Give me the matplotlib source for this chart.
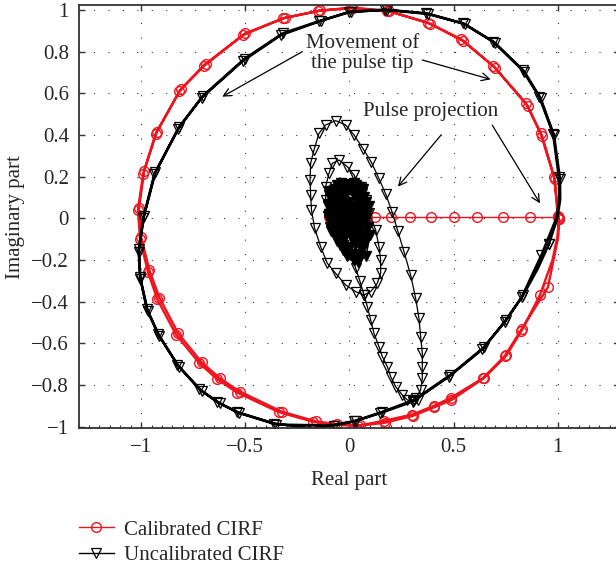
import numpy as np
import matplotlib.pyplot as plt
from matplotlib.lines import Line2D
from matplotlib.ticker import MultipleLocator

# ==== 資料: complex plane samples (real, imag, marked) ====
# marked = 0 -> extra vertex on the curve, drawn without a marker
# calibrated CIRF, tip of the pulse going round (two laps)
cal_tip = np.array([
    (1.006, 0.000, 1), (0.982, 0.200, 1), (0.918, 0.408, 1), (0.848, 0.552, 1), (0.691, 0.731, 1),
    (0.538, 0.859, 1), (0.377, 0.939, 1), (0.180, 0.997, 1), (0.006, 1.012, 1), (-0.150, 0.995, 1),
    (-0.320, 0.960, 1), (-0.510, 0.880, 1), (-0.700, 0.730, 1), (-0.816, 0.610, 1), (-0.930, 0.405, 1),
    (-0.990, 0.215, 1), (-1.015, 0.040, 1), (-1.005, -0.100, 1), (-0.967, -0.258, 1), (-0.922, -0.389, 1),
    (-0.832, -0.559, 1), (-0.720, -0.696, 1), (-0.634, -0.773, 1), (-0.538, -0.837, 1), (-0.339, -0.930, 1),
    (-0.173, -0.977, 1), (-0.074, -0.990, 1), (0.039, -0.997, 1), (0.171, -0.981, 1), (0.303, -0.949, 1),
    (0.407, -0.907, 1), (0.490, -0.872, 1), (0.646, -0.767, 1), (0.754, -0.658, 1), (0.830, -0.533, 1),
    (0.915, -0.368, 1), (0.975, -0.200, 0), (0.998, -0.090, 0), (1.006, -0.005, 1),
    (1.000, 0.010, 1), (0.985, 0.190, 1), (0.925, 0.395, 1), (0.855, 0.540, 1), (0.700, 0.722, 1),
    (0.545, 0.852, 1), (0.385, 0.935, 1), (0.190, 0.994, 1), (0.015, 1.008, 1), (-0.140, 0.998, 1),
    (-0.310, 0.962, 1), (-0.500, 0.888, 1), (-0.690, 0.742, 1), (-0.808, 0.622, 1), (-0.925, 0.415, 1),
    (-0.985, 0.228, 1), (-1.010, 0.050, 1), (-1.000, -0.090, 1), (-0.960, -0.250, 1), (-0.912, -0.381, 1),
    (-0.822, -0.552, 1), (-0.710, -0.690, 1), (-0.622, -0.768, 1), (-0.525, -0.832, 1), (-0.325, -0.928, 1),
    (-0.160, -0.975, 1), (-0.060, -0.988, 1), (0.050, -0.994, 1), (0.166, -0.972, 1), (0.302, -0.942, 1),
    (0.406, -0.900, 1), (0.486, -0.862, 1), (0.640, -0.768, 1), (0.745, -0.662, 1), (0.822, -0.540, 1),
    (0.953, -0.331, 1), (0.982, -0.190, 0), (1.003, -0.085, 0), (1.006, -0.005, 1),
])

# calibrated CIRF, samples of the pulse (all on the real axis)
cal_proj_x = [-0.098, -0.060, -0.030, 0.000, 0.025, 0.055, 0.086, 0.121, 0.198,
              0.290, 0.392, 0.502, 0.614, 0.739, 0.867, 1.003]
cal_proj_y = [0.004] * len(cal_proj_x)

# uncalibrated CIRF, tip of the pulse (two laps)
uncal_tip = np.array([
    (0.958, -0.123, 1), (0.998, 0.000, 0), (1.012, 0.090, 0), (1.011, 0.190, 1), (0.982, 0.400, 1),
    (0.918, 0.576, 1), (0.840, 0.704, 1), (0.698, 0.843, 1), (0.553, 0.933, 1), (0.377, 0.981, 1),
    (0.180, 1.000, 1), (0.006, 0.992, 1), (-0.138, 0.949, 1), (-0.320, 0.888, 1), (-0.503, 0.766, 1),
    (-0.704, 0.587, 1), (-0.816, 0.440, 1), (-0.931, 0.222, 1), (-0.986, 0.011, 1), (-1.010, -0.149, 1),
    (-1.005, -0.280, 1), (-0.973, -0.434, 1), (-0.919, -0.555, 1), (-0.826, -0.703, 1), (-0.720, -0.821, 1),
    (-0.634, -0.882, 1), (-0.540, -0.930, 1), (-0.360, -0.985, 1), (-0.174, -1.010, 1), (0.030, -0.972, 1),
    (0.146, -0.936, 1), (0.303, -0.880, 1), (0.478, -0.760, 1), (0.638, -0.629, 1), (0.747, -0.496, 1),
    (0.827, -0.379, 1), (0.922, -0.176, 1), (0.993, 0.000, 0), (1.008, 0.090, 0),
    (1.005, 0.200, 1), (0.978, 0.405, 1), (0.912, 0.582, 1), (0.832, 0.710, 1), (0.690, 0.848, 1),
    (0.545, 0.936, 1), (0.370, 0.984, 1), (0.172, 1.002, 1), (-0.002, 0.990, 1), (-0.145, 0.945, 1),
    (-0.328, 0.880, 1), (-0.510, 0.757, 1), (-0.710, 0.578, 1), (-0.822, 0.430, 1), (-0.936, 0.212, 1),
    (-0.990, 0.000, 1), (-1.012, -0.160, 1), (-1.003, -0.292, 1), (-0.968, -0.445, 1), (-0.912, -0.566, 1),
    (-0.818, -0.712, 1), (-0.710, -0.828, 1), (-0.622, -0.888, 1), (-0.528, -0.935, 1), (-0.350, -0.990, 1),
    (-0.074, -0.995, 1), (0.022, -0.975, 1), (0.155, -0.930, 1), (0.310, -0.872, 1), (0.485, -0.752, 1),
    (0.645, -0.620, 1), (0.752, -0.488, 1), (0.835, -0.368, 1), (0.905, -0.240, 0), (0.958, -0.123, 1),
])

# uncalibrated CIRF, samples of the pulse: dense core near the origin ...
uncal_core = np.array([
    (-0.010, 0.000), (0.010, 0.030), (-0.015, 0.050), (-0.035, 0.010), (-0.020, -0.040),
    (0.015, -0.030), (0.030, 0.030), (0.000, 0.080), (-0.045, 0.070), (-0.060, 0.000),
    (-0.035, -0.070), (0.010, -0.090), (0.045, -0.040), (0.050, 0.040), (0.020, 0.110),
    (-0.035, 0.120), (-0.075, 0.070), (-0.080, -0.010), (-0.050, -0.090), (0.000, -0.140),
    (0.050, -0.110), (0.070, -0.020), (0.060, 0.080), (0.020, 0.140), (-0.045, 0.150),
    (-0.090, 0.100), (-0.100, 0.020), (-0.070, -0.080), (-0.020, -0.160), (0.040, -0.170),
    (0.080, -0.090), (0.085, 0.020), (0.060, 0.120), (0.000, 0.160), (-0.070, 0.140),
    (-0.105, 0.060), (-0.095, -0.040), (-0.045, -0.130), (0.020, -0.190),
    (-0.005, 0.020), (-0.025, 0.030), (-0.030, -0.015), (0.000, -0.020), (0.020, 0.010),
    (0.015, 0.060), (-0.030, 0.090), (-0.055, 0.040), (-0.050, -0.040), (-0.010, -0.060),
    (0.030, -0.070), (0.040, 0.000), (0.040, 0.090), (-0.010, 0.130), (-0.060, 0.110),
    (-0.085, 0.040), (-0.075, -0.050), (-0.030, -0.110), (0.025, -0.130), (0.065, -0.070),
    (0.075, 0.050), (0.040, 0.130), (-0.020, 0.165), (-0.080, 0.130), (-0.105, 0.070),
    (-0.100, -0.010), (-0.060, -0.110), (0.005, -0.175), (0.060, -0.150), (0.090, -0.040),
    (0.080, 0.080), (0.030, 0.160), (-0.060, 0.160), (-0.100, 0.110), (-0.090, 0.000),
    (-0.040, -0.100), (0.000, 0.000), (0.020, -0.010), (0.010, -0.050), (-0.020, -0.070),
    (-0.045, -0.020), (-0.040, 0.040), (-0.010, 0.060), (0.030, 0.060), (0.055, 0.000),
    (0.050, -0.070), (0.020, -0.110), (-0.030, -0.130), (-0.070, -0.040), (-0.070, 0.030),
    (-0.060, 0.090), (-0.020, 0.150), (0.045, 0.150), (0.070, 0.100), (0.080, -0.005),
    (0.075, -0.120), (0.045, -0.190), (-0.010, -0.180), (-0.030, -0.150), (-0.090, -0.060),
    (-0.105, 0.010), (-0.100, 0.130), (-0.040, 0.170), (0.020, 0.170), (0.065, 0.140),
    (0.095, 0.060), (0.100, -0.080), (0.080, -0.180), (0.040, -0.210), (0.020, -0.200),
])
# ... then the tail, the outer loop and the inner loop
uncal_loops = np.array([
    (0.030, -0.240), (0.050, -0.300), (0.070, -0.368),
    (0.086, -0.424), (0.102, -0.488), (0.118, -0.552), (0.142, -0.616), (0.158, -0.664),
    (0.182, -0.712), (0.198, -0.760), (0.222, -0.808), (0.254, -0.848), (0.278, -0.872),
    (0.305, -0.878), (0.330, -0.872),
    (0.318, -0.864), (0.342, -0.824), (0.350, -0.768), (0.350, -0.712), (0.350, -0.648),
    (0.342, -0.568), (0.334, -0.480), (0.318, -0.384), (0.294, -0.272), (0.262, -0.160),
    (0.232, -0.060), (0.205, 0.030), (0.175, 0.115), (0.140, 0.195), (0.105, 0.270),
    (0.065, 0.335), (0.022, 0.400), (-0.018, 0.448), (-0.066, 0.469), (-0.114, 0.448),
    (-0.146, 0.408), (-0.170, 0.328), (-0.186, 0.264), (-0.189, 0.184), (-0.186, 0.110),
    (-0.182, 0.040), (-0.167, -0.048), (-0.138, -0.136), (-0.106, -0.216), (-0.066, -0.264),
    (-0.018, -0.320), (0.030, -0.352), (0.070, -0.368),
    (0.102, -0.352), (0.134, -0.312), (0.150, -0.264), (0.150, -0.200), (0.142, -0.136),
    (0.126, -0.056), (0.094, 0.024), (0.078, 0.088), (0.054, 0.152), (0.022, 0.208),
    (-0.010, 0.248), (-0.050, 0.280), (-0.082, 0.264), (-0.098, 0.216), (-0.114, 0.152),
    (-0.114, 0.088), (-0.100, 0.020),
])

x_ticks = [-1, -0.5, 0, 0.5, 1]
x_ticklabels = ['\u22121', '\u22120.5', '0', '0.5', '1']
y_ticks = [-1, -0.8, -0.6, -0.4, -0.2, 0, 0.2, 0.4, 0.6, 0.8, 1]
y_ticklabels = ['\u22121', '\u22120.8', '\u22120.6', '\u22120.4', '\u22120.2', '0',
                '0.2', '0.4', '0.6', '0.8', '1']

plt.rcParams['font.family'] = ['Liberation Serif', 'DejaVu Serif']
FS = 15
TXT = '#262626'
RED = '#f0141e'

fig = plt.figure(figsize=(6.16, 5.69), dpi=100)
ax = fig.add_axes([78.6 / 616, 1 - 428.3 / 569, 541.6 / 616, 423.3 / 569])

red_style = dict(color=RED, marker='o', ms=7, mfc='none', mew=1.0)
blk_style = dict(color='k', marker='v', ms=7.5, mfc='none', mew=0.9)


def marked(arr):
    return [int(i) for i in np.flatnonzero(arr[:, 2])]


ax.plot(cal_tip[:, 0], cal_tip[:, 1], lw=1.7, markevery=marked(cal_tip), **red_style)
ax.plot(cal_proj_x, cal_proj_y, lw=1.0, **red_style)
ax.plot(uncal_tip[:, 0], uncal_tip[:, 1], lw=1.8, markevery=marked(uncal_tip), **blk_style)
# core samples overlap so much that they merge into a solid patch
ax.plot(uncal_core[:, 0], uncal_core[:, 1], lw=1.0, color='k', marker='v', ms=7.5,
        mfc='k', mew=1.0)
ax.plot(np.r_[uncal_core[-1:, 0], uncal_loops[:, 0]],
        np.r_[uncal_core[-1:, 1], uncal_loops[:, 1]], lw=0.9, **blk_style)

ax.set_xlim(-1.3, 1.3)
ax.set_ylim(-1.008, 1.024)
ax.set_xticks(x_ticks)
ax.set_xticklabels(x_ticklabels)
ax.set_yticks(y_ticks)
ax.set_yticklabels(y_ticklabels)
ax.xaxis.set_minor_locator(MultipleLocator(0.05))
ax.tick_params(which='major', direction='in', length=4, width=1.0, color='#333333',
               top=True, right=True, labelsize=FS, labelcolor=TXT, pad=7)
ax.tick_params(axis='x', which='minor', direction='in', length=2, width=0.8,
               color='#333333', top=False, bottom=True)
ax.tick_params(axis='y', which='minor', left=False, right=False)
ax.grid(True, which='major', color='#333333', lw=0.8, linestyle=(0, (1, 12)))
ax.set_axisbelow(True)
for sp in ax.spines.values():
    sp.set_color('#333333')
    sp.set_linewidth(1.3)

ax.set_xlabel('Real part', fontsize=FS, color=TXT, labelpad=10)
ax.set_ylabel('Imaginary part', fontsize=FS, color=TXT, labelpad=4)

# ==== annotations ====
ax.text(0.062, 0.792, 'Movement of\nthe pulse tip', fontsize=FS, color=TXT,
        ha='center', va='center', linespacing=1.05)
ax.text(0.392, 0.515, 'Pulse projection', fontsize=FS, color=TXT,
        ha='center', va='center')
arrow = dict(arrowstyle='->', lw=0.9, color='k', shrinkA=0, shrinkB=0,
             mutation_scale=14)
ax.annotate('', xy=(-0.61, 0.584), xytext=(-0.226, 0.80), arrowprops=arrow)
ax.annotate('', xy=(0.678, 0.667), xytext=(0.35, 0.76), arrowprops=arrow)
ax.annotate('', xy=(0.233, 0.152), xytext=(0.44, 0.40), arrowprops=arrow)
ax.annotate('', xy=(0.915, 0.072), xytext=(0.686, 0.447), arrowprops=arrow)

# ==== legend under the axes ====
handles = [Line2D([], [], lw=1.0, **red_style), Line2D([], [], lw=1.0, **blk_style)]
fig.legend(handles, ['Calibrated CIRF', 'Uncalibrated CIRF'], loc='upper left',
           bbox_to_anchor=(78.6 / 616, 1 - 520 / 569), frameon=False, fontsize=FS,
           handlelength=1.7, handletextpad=0.5, labelspacing=0.28, borderpad=0,
           borderaxespad=0, labelcolor=TXT)

fig.savefig('out.png', dpi=100)
